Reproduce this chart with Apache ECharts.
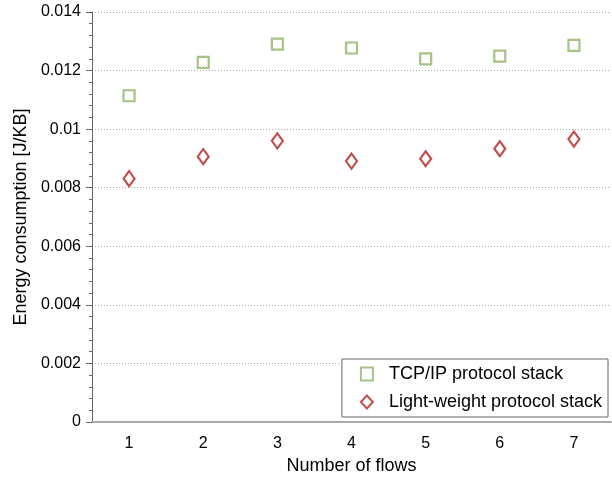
<!DOCTYPE html>
<html><head><meta charset="utf-8">
<script src="https://cdn.jsdelivr.net/npm/echarts@6/dist/echarts.min.js"></script>
<style>html,body{margin:0;padding:0;background:#fff}#c{width:612px;height:477px}</style>
</head><body><div id="c"></div>
<script>
const categories = ['1','2','3','4','5','6','7'];
const tcpValues = [0.01114, 0.01228, 0.01290, 0.01277, 0.01240, 0.01249, 0.01286];
const lightValues = [0.00831, 0.00906, 0.00960, 0.00891, 0.00899, 0.00933, 0.00966];
const seriesNames = ['TCP/IP protocol stack', 'Light-weight protocol stack'];
const yTicks = [0, 0.002, 0.004, 0.006, 0.008, 0.01, 0.012, 0.014];

const font = 'Liberation Sans, Arial, sans-serif';
const chart = echarts.init(document.getElementById('c'), null, {renderer:'canvas'});
chart.setOption({
  animation: false,
  backgroundColor: '#fff',
  grid: {left: 92, right: 1, top: 12, bottom: 55, containLabel: false, outerBoundsMode: 'none'},
  xAxis: {
    type: 'category', data: categories, boundaryGap: true,
    name: 'Number of flows', nameLocation: 'middle', nameGap: 33,
    nameTextStyle: {fontFamily: font, fontSize: 18, color: '#000'},
    axisLine: {lineStyle: {color: '#aaa', width: 2}},
    axisTick: {alignWithLabel: true, length: 5, lineStyle: {color: '#666'}},
    axisLabel: {fontFamily: font, fontSize: 16, color: '#000', margin: 14},
    splitLine: {show: false}
  },
  yAxis: {
    type: 'value', min: 0, max: 0.014, interval: 0.002,
    name: 'Energy consumption [J/KB]', nameLocation: 'middle', nameGap: 58,
    nameTextStyle: {fontFamily: font, fontSize: 18, color: '#000'},
    axisLine: {show: true, lineStyle: {color: '#666', width: 1}},
    axisTick: {show: true, length: 6, lineStyle: {color: '#666'}},
    minorTick: {show: true, splitNumber: 5, length: 3, lineStyle: {color: '#666'}},
    axisLabel: {fontFamily: font, fontSize: 16, color: '#000', margin: 11,
      formatter: v => { const t = yTicks.find(x => Math.abs(x - v) < 1e-9); return t === undefined ? '' : String(+t.toFixed(3)); }},
    splitLine: {show: true, lineStyle: {color: '#aaa', type: [1, 2], width: 1}}
  },
  legend: {
    orient: 'vertical', right: 4, bottom: 60,
    backgroundColor: '#fff', borderColor: '#666', borderWidth: 1, borderRadius: 0,
    padding: [5, 6, 5, 18], itemGap: 8, itemWidth: 12, itemHeight: 13,
    textStyle: {fontFamily: font, fontSize: 18, lineHeight: 20, color: '#000', padding: [0,0,0,11]},
    data: seriesNames
  },
  series: [
    {name: seriesNames[0], type: 'scatter', data: tcpValues, symbol: 'rect', symbolSize: 11,
     itemStyle: {color: '#fff', borderColor: '#a6c385', borderWidth: 2.2, opacity: 1}},
    {name: seriesNames[1], type: 'scatter', data: lightValues, symbol: 'diamond', symbolSize: [11, 15],
     itemStyle: {color: '#fff', borderColor: '#c0504d', borderWidth: 2.2, opacity: 1}}
  ]
});
</script></body></html>
